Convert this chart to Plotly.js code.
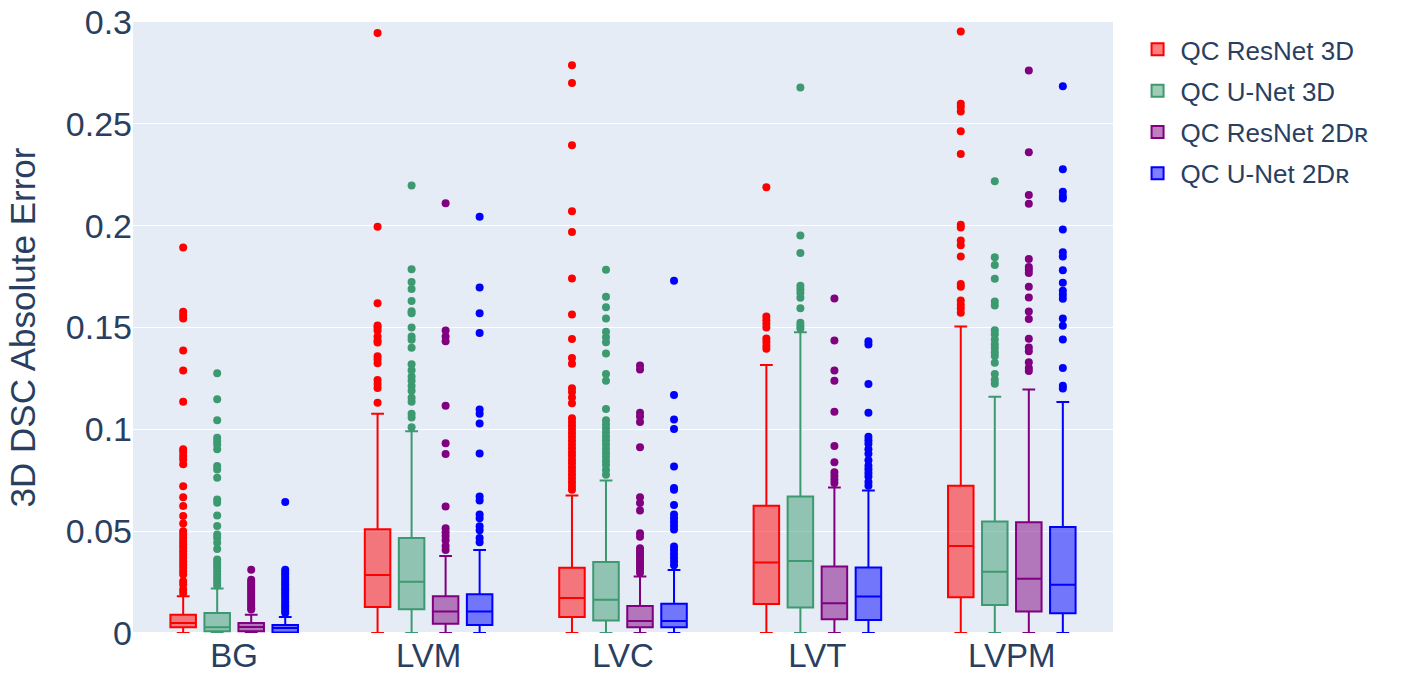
<!DOCTYPE html>
<html>
<head>
<meta charset="utf-8">
<script src="https://cdn.plot.ly/plotly-3.0.1.min.js"></script>
<style>html,body{margin:0;padding:0;background:#fff;}#chart{width:1410px;height:676px;}</style>
</head>
<body>
<div id="chart"></div>
<script>
const categories = ["BG", "LVM", "LVC", "LVT", "LVPM"];
const seriesNames = ["QC ResNet 3D", "QC U-Net 3D", "QC ResNet 2Dʀ", "QC U-Net 2Dʀ"];
const seriesColors = ["#ff0000", "#3D9970", "#800080", "#0000ff"];

// QC ResNet 3D
const resnet3dQ1 = [0.0028, 0.0128, 0.0078, 0.0143, 0.0175];
const resnet3dMedian = [0.0049, 0.0285, 0.0172, 0.0346, 0.0427];
const resnet3dQ3 = [0.0090, 0.0509, 0.0320, 0.0625, 0.0723];
const resnet3dLower = [0, 0, 0, 0, 0];
const resnet3dUpper = [0.0180, 0.1077, 0.0675, 0.1316, 0.1505];
const resnet3dOutliers = [
  [0.1893, 0.1577, 0.1560, 0.1544, 0.1387, 0.1289, 0.1136, 0.0902, 0.0889, 0.0869, 0.0852, 0.0828, 0.0720, 0.0667, 0.0623, 0.0574, 0.0538, 0.0500, 0.0484, 0.0467, 0.0451, 0.0435, 0.0418, 0.0402, 0.0385, 0.0369, 0.0352, 0.0336, 0.0320, 0.0303, 0.0287, 0.0254, 0.0238, 0.0213, 0.0197],
  [0.2946, 0.1995, 0.1619, 0.1510, 0.1500, 0.1485, 0.1456, 0.1436, 0.1426, 0.1359, 0.1343, 0.1324, 0.1242, 0.1223, 0.1203, 0.1130],
  [0.2788, 0.2700, 0.2395, 0.2071, 0.1969, 0.1740, 0.1564, 0.1444, 0.1350, 0.1322, 0.1202, 0.1183, 0.1156, 0.1128, 0.1054, 0.1036, 0.1018, 0.0999, 0.0981, 0.0962, 0.0944, 0.0925, 0.0907, 0.0888, 0.0870, 0.0851, 0.0833, 0.0814, 0.0796, 0.0777, 0.0759, 0.0740, 0.0722, 0.0703],
  [0.2189, 0.1554, 0.1536, 0.1518, 0.1500, 0.1446, 0.1429, 0.1411, 0.1396],
  [0.2953, 0.2599, 0.2583, 0.2560, 0.2463, 0.2352, 0.2005, 0.1991, 0.1927, 0.1904, 0.1849, 0.1713, 0.1700, 0.1632, 0.1612, 0.1593, 0.1573]
];

// QC U-Net 3D
const unet3dQ1 = [0.0008, 0.0116, 0.0061, 0.0125, 0.0138];
const unet3dMedian = [0.0028, 0.0252, 0.0163, 0.0354, 0.0301];
const unet3dQ3 = [0.0098, 0.0466, 0.0348, 0.0670, 0.0548];
const unet3dLower = [0, 0, 0, 0, 0];
const unet3dUpper = [0.0218, 0.0990, 0.0749, 0.1477, 0.1160];
const unet3dOutliers = [
  [0.1275, 0.1148, 0.1044, 0.0959, 0.0943, 0.0926, 0.0902, 0.0820, 0.0803, 0.0762, 0.0656, 0.0640, 0.0577, 0.0525, 0.0484, 0.0467, 0.0443, 0.0413, 0.0361, 0.0348, 0.0334, 0.0320, 0.0305, 0.0290, 0.0275, 0.0262, 0.0248, 0.0233],
  [0.2197, 0.1786, 0.1724, 0.1689, 0.1630, 0.1580, 0.1570, 0.1500, 0.1456, 0.1440, 0.1400, 0.1320, 0.1290, 0.1260, 0.1238, 0.1213, 0.1190, 0.1155, 0.1135, 0.1077, 0.1058, 0.1010],
  [0.1783, 0.1651, 0.1600, 0.1544, 0.1479, 0.1452, 0.1427, 0.1372, 0.1272, 0.1239, 0.1100, 0.1045, 0.1025, 0.1005, 0.0985, 0.0965, 0.0945, 0.0925, 0.0905, 0.0885, 0.0865, 0.0845, 0.0825, 0.0800, 0.0777],
  [0.2679, 0.1952, 0.1866, 0.1705, 0.1688, 0.1670, 0.1646, 0.1595, 0.1523, 0.1509, 0.1495],
  [0.2218, 0.1845, 0.1807, 0.1739, 0.1628, 0.1608, 0.1486, 0.1467, 0.1441, 0.1418, 0.1399, 0.1379, 0.1360, 0.1327, 0.1272, 0.1243, 0.1224]
];

// QC ResNet 2Dʀ
const resnet2dQ1 = [0.0008, 0.0045, 0.0028, 0.0068, 0.0105];
const resnet2dMedian = [0.0030, 0.0105, 0.0059, 0.0146, 0.0266];
const resnet2dQ3 = [0.0049, 0.0180, 0.0133, 0.0327, 0.0544];
const resnet2dLower = [0, 0, 0, 0, 0];
const resnet2dUpper = [0.0090, 0.0378, 0.0277, 0.0714, 0.1195];
const resnet2dOutliers = [
  [0.0311, 0.0262, 0.0252, 0.0242, 0.0232, 0.0222, 0.0212, 0.0202, 0.0192, 0.0182, 0.0172, 0.0162, 0.0152, 0.0142, 0.0132, 0.0122, 0.0115],
  [0.2110, 0.1485, 0.1456, 0.1432, 0.1116, 0.0932, 0.0879, 0.0621, 0.0514, 0.0495, 0.0476, 0.0456, 0.0427, 0.0408],
  [0.1313, 0.1294, 0.1082, 0.1063, 0.1036, 0.0912, 0.0666, 0.0638, 0.0601, 0.0490, 0.0472, 0.0416, 0.0403, 0.0390, 0.0377, 0.0364, 0.0351, 0.0338, 0.0325, 0.0312, 0.0296],
  [0.1643, 0.1436, 0.1289, 0.1238, 0.1086, 0.0918, 0.0838, 0.0789, 0.0771, 0.0754, 0.0736],
  [0.2762, 0.2360, 0.2150, 0.2108, 0.1836, 0.1797, 0.1783, 0.1768, 0.1700, 0.1647, 0.1579, 0.1542, 0.1445, 0.1402, 0.1383, 0.1329, 0.1301, 0.1286]
];

// QC U-Net 2Dʀ
const unet2dQ1 = [0.0003, 0.0039, 0.0028, 0.0064, 0.0097];
const unet2dMedian = [0.0025, 0.0105, 0.0059, 0.0179, 0.0237];
const unet2dQ3 = [0.0039, 0.0190, 0.0144, 0.0321, 0.0521];
const unet2dLower = [0, 0, 0, 0, 0];
const unet2dUpper = [0.0079, 0.0408, 0.0309, 0.0700, 0.1134];
const unet2dOutliers = [
  [0.0643, 0.0311, 0.0299, 0.0287, 0.0275, 0.0263, 0.0251, 0.0239, 0.0227, 0.0215, 0.0203, 0.0191, 0.0179, 0.0167, 0.0155, 0.0143, 0.0131, 0.0119, 0.0108, 0.0098],
  [0.2044, 0.1696, 0.1570, 0.1473, 0.1097, 0.1077, 0.1029, 0.0881, 0.0670, 0.0650, 0.0582, 0.0563, 0.0524, 0.0505, 0.0466, 0.0446],
  [0.1729, 0.1169, 0.1048, 0.1002, 0.0817, 0.0712, 0.0703, 0.0629, 0.0582, 0.0564, 0.0545, 0.0527, 0.0508, 0.0425, 0.0407, 0.0388, 0.0370, 0.0351, 0.0333],
  [0.1432, 0.1416, 0.1223, 0.1082, 0.0964, 0.0946, 0.0929, 0.0902, 0.0880, 0.0848, 0.0821, 0.0804, 0.0786, 0.0768, 0.0741, 0.0723],
  [0.2685, 0.2277, 0.2166, 0.2146, 0.2133, 0.1981, 0.1869, 0.1849, 0.1781, 0.1720, 0.1680, 0.1661, 0.1641, 0.1544, 0.1509, 0.1441, 0.1301, 0.1214, 0.1200]
];

const stats = [
  [resnet3dQ1, resnet3dMedian, resnet3dQ3, resnet3dLower, resnet3dUpper, resnet3dOutliers],
  [unet3dQ1, unet3dMedian, unet3dQ3, unet3dLower, unet3dUpper, unet3dOutliers],
  [resnet2dQ1, resnet2dMedian, resnet2dQ3, resnet2dLower, resnet2dUpper, resnet2dOutliers],
  [unet2dQ1, unet2dMedian, unet2dQ3, unet2dLower, unet2dUpper, unet2dOutliers]
];

const FONT = "Liberation Sans, Arial, sans-serif";
const traces = stats.map((s, i) => ({
  type: "box",
  name: seriesNames[i],
  legendgroup: "g" + i,
  x: categories,
  q1: s[0], median: s[1], q3: s[2], lowerfence: s[3], upperfence: s[4],
  y: s[5],
  boxpoints: "outliers",
  marker: {color: seriesColors[i], size: 8},
  line: {color: seriesColors[i], width: 2},
  whiskerwidth: 0.5
}));

const layout = {
  width: 1410, height: 676,
  margin: {l: 133, r: 297, t: 22, b: 43},
  paper_bgcolor: "#ffffff",
  plot_bgcolor: "#E5ECF6",
  font: {family: FONT, color: "#2a3f5f", size: 26},
  boxmode: "group",
  boxgap: 0.3,
  boxgroupgap: 0.25,
  xaxis: {type: "category", showgrid: false, zeroline: false, tickfont: {size: 33}, ticks: "", automargin: false},
  yaxis: {
    range: [0, 0.3], dtick: 0.05, tick0: 0,
    gridcolor: "#ffffff", gridwidth: 1, zerolinecolor: "#ffffff", zerolinewidth: 2,
    tickfont: {size: 34}, automargin: false,
    title: {text: "3D DSC Absolute Error", font: {size: 35}, standoff: 19}
  },
  legend: {x: 1.022, y: 0.9935, font: {size: 26}, itemwidth: 36, tracegroupgap: 4.5},
  showlegend: true
};

Plotly.newPlot("chart", traces, layout, {displayModeBar: false, staticPlot: true});
</script>
</body>
</html>
